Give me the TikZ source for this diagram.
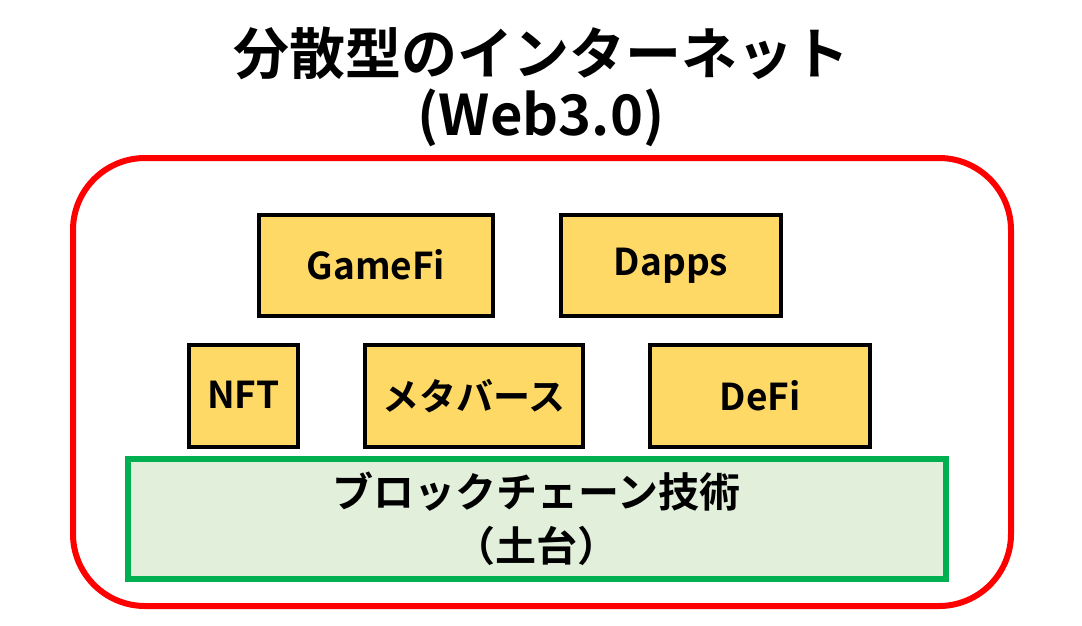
\documentclass[tikz,border=0pt]{standalone}
\usepackage{fontspec}
\setmainfont{Noto Sans CJK JP}[BoldFont={Noto Sans CJK JP Bold}]
\definecolor{ybfill}{HTML}{FFD966}
\definecolor{gbfill}{HTML}{E2EFDA}
\definecolor{gbdraw}{HTML}{00B050}
\definecolor{rdraw}{HTML}{FF0000}
\begin{document}
\begin{tikzpicture}[x=1pt,y=-1pt,
  ybox/.style={draw=black, fill=ybfill, line width=3.5pt, inner sep=0pt,
    font=\fontsize{37}{40}\selectfont\bfseries},
  gbox/.style={draw=gbdraw, fill=gbfill, line width=6pt, inner sep=0pt, align=center,
    font=\fontsize{41}{54}\selectfont\bfseries},
  frame/.style={draw=rdraw, line width=6pt, rounded corners=72pt},
  titletext/.style={align=center, font=\fontsize{56}{61}\selectfont\bfseries}]
\useasboundingbox (0,0) rectangle (1082,625);
\fill[white] (0,0) rectangle (1082,625);
\coordinate (ftl) at (73,158);
\coordinate (fbr) at (1011,606);
\draw[frame] (ftl) rectangle (fbr);
\node[titletext] (title) at (541,87) {分散型のインターネット\\(Web3.0)};
\node[ybox, minimum width=234pt, minimum height=101pt] (gamefi) at (376,265.5) {\raisebox{3pt}{GameFi}};
\node[ybox, minimum width=220pt, minimum height=101pt] (dapps) at (671,265.5) {\raisebox{2pt}{Dapps}};
\node[ybox, minimum width=109pt, minimum height=102pt] (nft) at (243.5,396) {\raisebox{2pt}{NFT}};
\node[ybox, minimum width=218pt, minimum height=102pt] (meta) at (474,396) {\raisebox{2pt}{メタバース}};
\node[ybox, minimum width=220pt, minimum height=102pt] (defi) at (760,396) {\raisebox{2pt}{DeFi}};
\node[gbox, minimum width=818.5pt, minimum height=120.5pt] (chain) at (536.75,518.75) {ブロックチェーン技術\\（土台）};
\end{tikzpicture}
\end{document}
